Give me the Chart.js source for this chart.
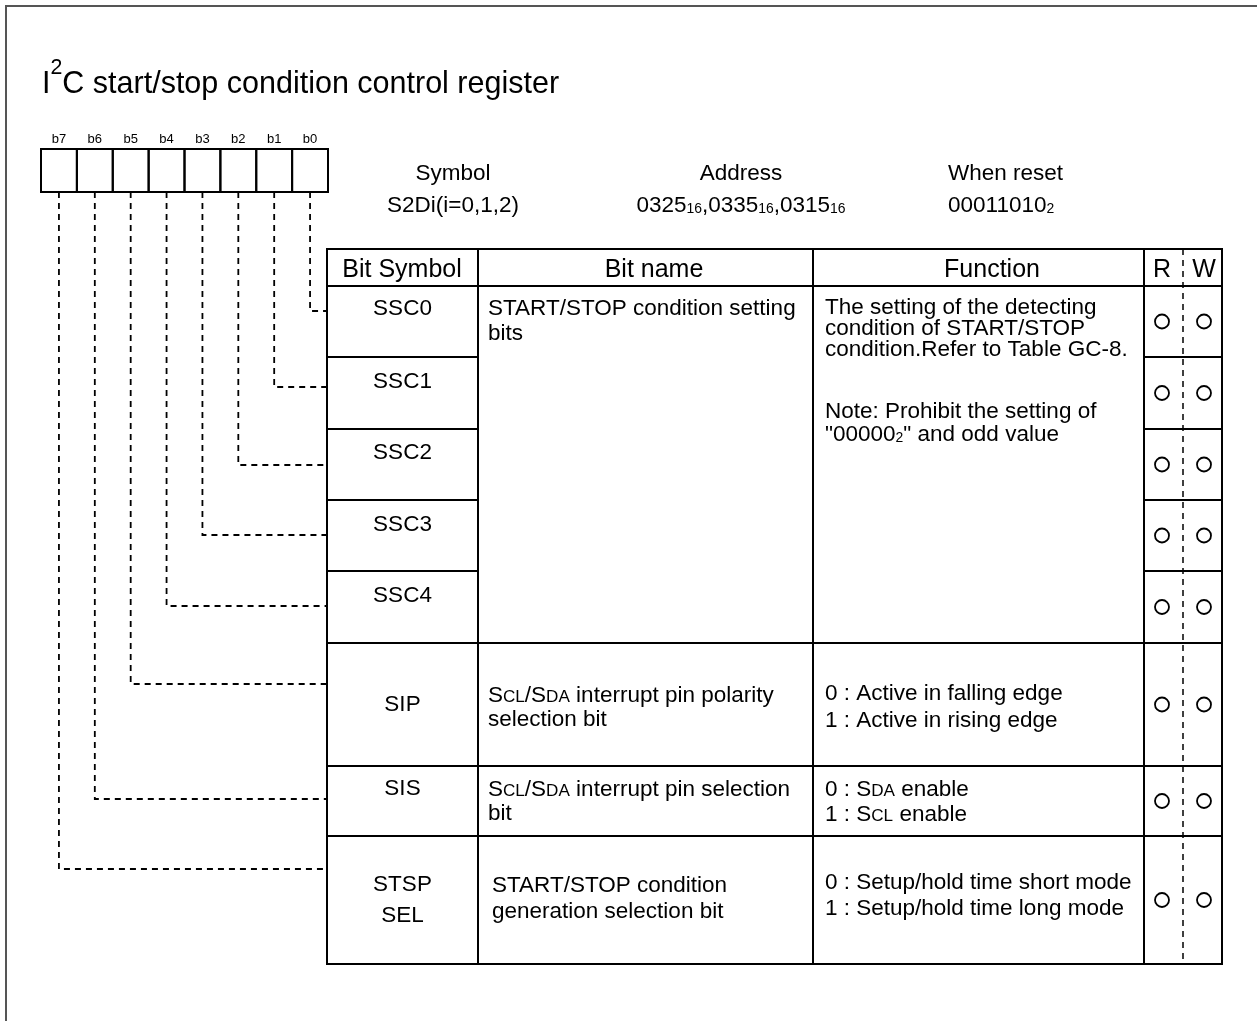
<!DOCTYPE html>
<html><head><meta charset="utf-8">
<script src="https://cdn.jsdelivr.net/npm/chart.js@4/dist/chart.umd.min.js"></script>
<style>html,body{margin:0;padding:0;background:#fff;overflow:hidden}canvas{display:block}</style>
</head><body>
<canvas id="c" width="1257" height="1021"></canvas>
<script>
// ---------- DATA ----------
const titleText = 'I^2C start/stop condition control register';
const bitLabels = ['b7','b6','b5','b4','b3','b2','b1','b0'];
const infoLabels = ['Symbol','Address','When reset'];
const infoValues = ['S2Di(i=0,1,2)','0325[16],0335[16],0315[16]','00011010[2]'];
const headers = ['Bit Symbol','Bit name','Function','R','W'];
const rowBits = [0,1,2,3,4,5,6,7];
const bitSymbols = [['SSC0'],['SSC1'],['SSC2'],['SSC3'],['SSC4'],['SIP'],['SIS'],['STSP','SEL']];
const nameSpans = [5,0,0,0,0,1,1,1];
const bitNames = [
  ['START/STOP condition setting','bits'], null, null, null, null,
  ['S{CL}/S{DA} interrupt pin polarity','selection bit'],
  ['S{CL}/S{DA} interrupt pin selection','bit'],
  ['START/STOP condition','generation selection bit']
];
const functions = [
  ['The setting of the detecting','condition of START/STOP','condition.Refer to Table GC-8.','Note: Prohibit the setting of','"00000[2]" and odd value'],
  null, null, null, null,
  ['0 : Active in falling edge','1 : Active in rising edge'],
  ['0 : S{DA} enable','1 : S{CL} enable'],
  ['0 : Setup/hold time short mode','1 : Setup/hold time long mode']
];
const readFlags  = [1,1,1,1,1,1,1,1];
const writeFlags = [1,1,1,1,1,1,1,1];

// ---------- LAYOUT ----------
const FONT = '"Liberation Sans", Arial, Helvetica, sans-serif';
const L = {
  W: 1257, H: 1021,
  frame: 6,
  title: {x: 42, base: 93, size: 30.5},
  box: {left: 41, right: 328, top: 149, bottom: 192, labelY: 139, labelSize: 13},
  info: {x: [453, 741, 948], align: ['center','center','left'], labelY: 172, valueY: 204, size: 22.5},
  cols: [327, 478, 813, 1144, 1183, 1222],
  headTop: 249, headBottom: 286,
  rowTops: [286, 357, 429, 500, 571, 643, 766, 836], bottom: 964,
  headerY: 268, headerSize: 25, headerX: [402, 654, 992, 1162, 1204],
  bodySize: 22.5,
  symY: [[307],[380],[451],[523],[594],[703],[787],[883,914]],
  nameX: [488,488,488,488,488,488,488,492],
  nameY: [[307,332],null,null,null,null,[694,718],[788,812],[884,910]],
  funcX: 825,
  funcY: [[306,327,348,410,433],null,null,null,null,[692,719],[788,813],[881,907]],
  connY: [311, 387, 465, 535, 606, 684, 799, 869],
  rwX: [1162, 1204]
};

// ---------- helpers ----------
function parseRich(s){
  const out=[]; const re=/\{([^}]*)\}|\[([^\]]*)\]|\^(.)|([^{\[\^]+)/g; let m;
  while((m=re.exec(s))){
    if(m[1]!=null) out.push({t:m[1],k:'sc'});
    else if(m[2]!=null) out.push({t:m[2],k:'sub'});
    else if(m[3]!=null) out.push({t:m[3],k:'sup'});
    else out.push({t:m[4],k:'n'});
  }
  return out;
}
function segSize(k,size){ return k==='sc'?size*0.76:k==='sub'?size*0.62:k==='sup'?size*0.7:size; }
function drawRich(ctx, s, x, cy, size, align, baselineOverride){
  const segs = parseRich(s);
  let total=0;
  segs.forEach(g=>{ ctx.font = segSize(g.k,size)+'px '+FONT; g.w = ctx.measureText(g.t).width; total+=g.w; });
  let cx = align==='center'? x-total/2 : align==='right'? x-total : x;
  const base = baselineOverride!=null ? baselineOverride : cy + size*0.36;
  ctx.textAlign='left'; ctx.textBaseline='alphabetic'; ctx.fillStyle='#000';
  segs.forEach(g=>{
    ctx.font = segSize(g.k,size)+'px '+FONT;
    let b = base;
    if(g.k==='sub') b = base + size*0.06;
    if(g.k==='sup') b = base - size*0.63;
    ctx.fillText(g.t, cx, b);
    cx += g.w;
  });
}

// ---------- datasets built from data ----------
const boxW = (L.box.right-L.box.left)/8;
const bitX = b => L.box.left + (7-b+0.5)*boxW;
const rowBottoms = L.rowTops.slice(1).concat([L.bottom]);
const rowCenter = i => (L.rowTops[i]+rowBottoms[i])/2;

const datasets = [];
rowBits.forEach((b,i)=>{
  datasets.push({
    type:'line',
    data:[{x:bitX(b),y:L.box.bottom},{x:bitX(b),y:L.connY[i]},{x:L.cols[0],y:L.connY[i]}],
    borderColor:'#000', borderWidth:1.8, borderDash:[6,5], pointRadius:0, fill:false, tension:0, order:2
  });
});
const rwPoints = [];
rowBits.forEach((b,i)=>{
  if(readFlags[i]) rwPoints.push({x:L.rwX[0], y:rowCenter(i)});
  if(writeFlags[i]) rwPoints.push({x:L.rwX[1], y:rowCenter(i)});
});
datasets.push({type:'scatter', data:rwPoints, pointStyle:'circle', pointRadius:7, pointHoverRadius:7,
  borderColor:'#000', borderWidth:1.8, backgroundColor:'#fff', order:1});

const drawPlugin = {
  id:'registerDiagram',
  beforeDraw(chart){
    const ctx = chart.ctx;
    ctx.save();
    ctx.fillStyle='#fff'; ctx.fillRect(0,0,chart.width,chart.height);
    ctx.restore();
  },
  beforeDatasetsDraw(chart){
    const ctx = chart.ctx, xs = chart.scales.x, ys = chart.scales.y;
    const X = v => xs.getPixelForValue(v), Y = v => ys.getPixelForValue(v);
    ctx.save();
    ctx.strokeStyle='#555'; ctx.lineWidth=2;
    ctx.beginPath(); ctx.moveTo(X(L.frame),Y(L.H+5)); ctx.lineTo(X(L.frame),Y(L.frame)); ctx.lineTo(X(L.W+5),Y(L.frame)); ctx.stroke();
    drawRich(ctx, titleText, X(L.title.x), 0, L.title.size, 'left', Y(L.title.base));
    ctx.strokeStyle='#000'; ctx.lineWidth=2;
    bitLabels.forEach((lab,k)=>{
      const x0 = L.box.left + k*boxW;
      ctx.strokeRect(X(x0), Y(L.box.top), X(x0+boxW)-X(x0), Y(L.box.bottom)-Y(L.box.top));
      ctx.font = L.box.labelSize+'px '+FONT; ctx.fillStyle='#000'; ctx.textAlign='center'; ctx.textBaseline='middle';
      ctx.fillText(lab, X(x0+boxW/2), Y(L.box.labelY));
    });
    infoLabels.forEach((lab,k)=>{
      drawRich(ctx, lab, X(L.info.x[k]), Y(L.info.labelY), L.info.size, L.info.align[k]);
      drawRich(ctx, infoValues[k], X(L.info.x[k]), Y(L.info.valueY), L.info.size, L.info.align[k]);
    });
    const c = L.cols;
    ctx.strokeStyle='#000'; ctx.lineWidth=2;
    ctx.beginPath();
    [0,1,2,3,5].forEach(j=>{ ctx.moveTo(X(c[j]),Y(L.headTop)); ctx.lineTo(X(c[j]),Y(L.bottom)); });
    [L.headTop, L.headBottom, L.bottom].forEach(y=>{ ctx.moveTo(X(c[0]-1),Y(y)); ctx.lineTo(X(c[5]+1),Y(y)); });
    rowBits.forEach((b,i)=>{
      if(i===0) return;
      const y = L.rowTops[i];
      ctx.moveTo(X(c[0]),Y(y)); ctx.lineTo(X(c[1]),Y(y));
      ctx.moveTo(X(c[3]),Y(y)); ctx.lineTo(X(c[5]),Y(y));
      if(nameSpans[i]>0){ ctx.moveTo(X(c[1]),Y(y)); ctx.lineTo(X(c[3]),Y(y)); }
    });
    ctx.stroke();
    ctx.setLineDash([6,5]); ctx.lineWidth=1.5;
    ctx.beginPath(); ctx.moveTo(X(c[4]),Y(L.headTop)); ctx.lineTo(X(c[4]),Y(L.bottom)); ctx.stroke();
    ctx.setLineDash([]);
    headers.forEach((h,k)=> drawRich(ctx, h, X(L.headerX[k]), Y(L.headerY), L.headerSize, 'center'));
    rowBits.forEach((b,i)=>{
      bitSymbols[i].forEach((s,j)=> drawRich(ctx, s, X((c[0]+c[1])/2), Y(L.symY[i][j]), L.bodySize, 'center'));
      if(bitNames[i]) bitNames[i].forEach((s,j)=> drawRich(ctx, s, X(L.nameX[i]), Y(L.nameY[i][j]), L.bodySize, 'left'));
      if(functions[i]) functions[i].forEach((s,j)=> drawRich(ctx, s, X(L.funcX), Y(L.funcY[i][j]), L.bodySize, 'left'));
    });
    ctx.restore();
  }
};

new Chart(document.getElementById('c'), {
  type:'scatter',
  data:{datasets},
  options:{
    responsive:false, animation:false, events:[],
    layout:{padding:0, autoPadding:false},
    plugins:{legend:{display:false}, tooltip:{enabled:false}, title:{display:false}},
    scales:{
      x:{type:'linear', min:0, max:L.W, display:false},
      y:{type:'linear', min:0, max:L.H, reverse:true, display:false}
    },
    elements:{line:{borderCapStyle:'butt'}}
  },
  plugins:[drawPlugin]
});
</script>
</body></html>
